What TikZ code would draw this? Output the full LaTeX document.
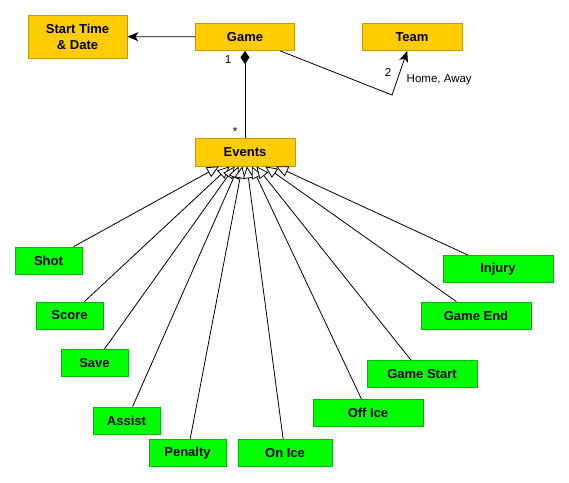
\documentclass[tikz,border=0pt]{standalone}
\usepackage{fontspec}
\setmainfont{Liberation Sans}
\usetikzlibrary{arrows.meta}
\definecolor{clsfill}{HTML}{FFCC00}
\definecolor{clsline}{HTML}{C89B00}
\definecolor{evtfill}{HTML}{00FF00}
\definecolor{evtline}{HTML}{00B400}
\begin{document}
\begin{tikzpicture}[x=1pt, y=-1pt, line width=0.8pt,
    every node/.style={font=\fontsize{11.5}{13}\selectfont},
    cls/.style={draw=clsline, fill=clsfill, minimum width=99pt, minimum height=27pt,
      inner sep=0pt, align=center, font=\bfseries\fontsize{13}{16}\selectfont},
    evt/.style={draw=evtline, fill=evtfill, minimum height=27pt,
      inner sep=0pt, font=\bfseries\fontsize{13}{16}\selectfont},
    gen/.style={-{Triangle[open, length=12pt, width=11pt, fill=white]}},
    nav/.style={-{Stealth[length=11pt, width=9pt, inset=3pt]}}]
    \useasboundingbox (0, 0) rectangle (569, 482);

    \node[cls, minimum height=43pt] (time) at (77.5, 36.5) {Start Time\\\& Date};
    \node[cls] (game) at (245, 37) {Game};
    \node[cls, minimum width=100pt] (team) at (412, 37) {Team};
    \node[cls, minimum width=100pt, minimum height=28pt] (events) at (245, 152) {Events};

    \node[evt, minimum width=67pt] (shot) at (48.5, 260.5) {Shot};
    \node[evt, minimum width=67pt] (score) at (69.5, 315.5) {Score};
    \node[evt, minimum width=67pt] (save) at (94.5, 363) {Save};
    \node[evt, minimum width=67pt] (assist) at (126.5, 420.5) {Assist};
    \node[evt, minimum width=77pt] (penalty) at (187.5, 453) {Penalty};
    \node[evt, minimum width=94pt] (onice) at (285, 453) {On Ice};
    \node[evt, minimum width=110pt] (office) at (368, 413) {Off Ice};
    \node[evt, minimum width=110pt] (gstart) at (422, 374) {Game Start};
    \node[evt, minimum width=110pt] (gend) at (476, 315.5) {Game End};
    \node[evt, minimum width=110pt] (injury) at (498, 269) {Injury};

    \draw[nav] (game) -- (time);
    \draw[{Diamond[length=13pt, width=9pt]}-] (game) -- (events);
    \node (one) at (228, 60) {1};
    \node (many) at (235, 132) {*};

    \coordinate (bend) at (392, 95);
    \draw[nav] (game) -- (bend) -- (team);
    \node (two) at (388, 72) {2};
    \node[anchor=west] (side) at (403, 80) {Home, Away};

    \foreach \e in {shot, score, save, assist, penalty, onice, office, gstart, gend, injury}
      \draw[gen] (\e) -- (events);
\end{tikzpicture}
\end{document}
